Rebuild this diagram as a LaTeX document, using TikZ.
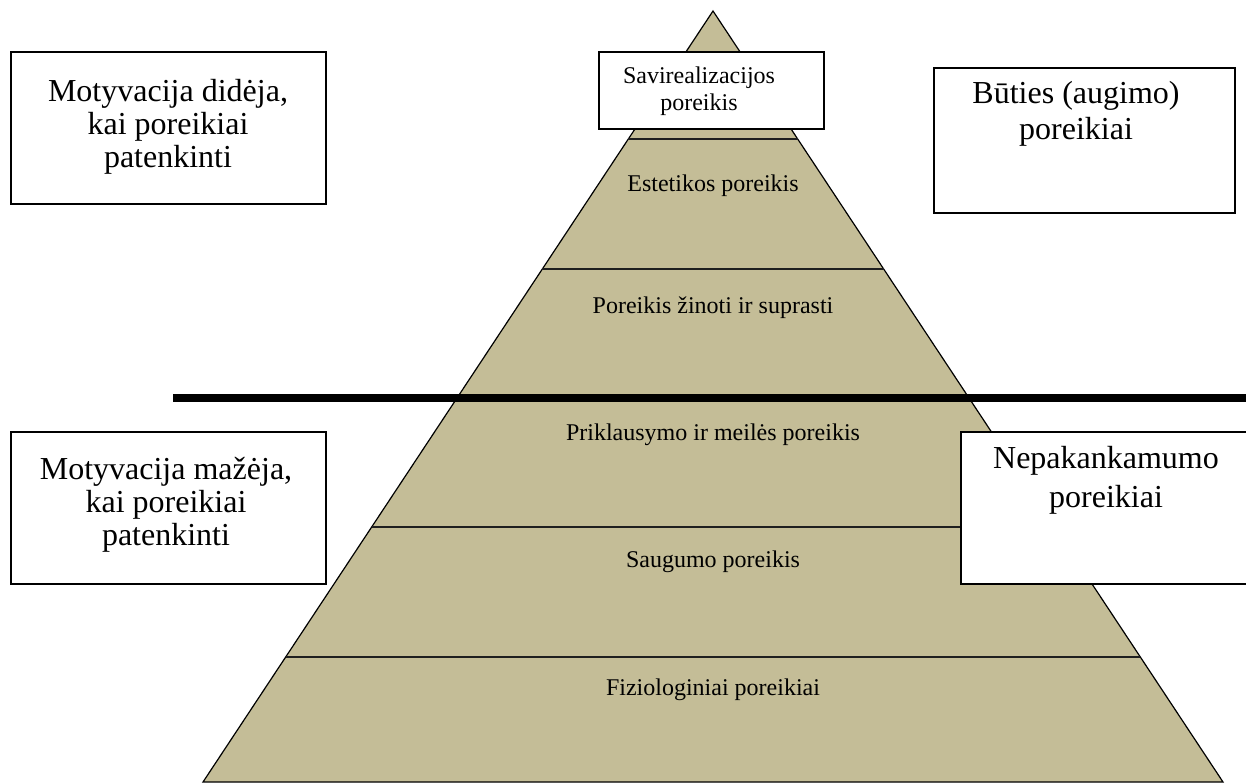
\documentclass[tikz,border=0pt]{standalone}
\usepackage{fontspec}
\setmainfont{Liberation Serif}
\usetikzlibrary{calc}
\definecolor{tan}{HTML}{C4BD97}
\begin{document}
\begin{tikzpicture}[x=1pt,y=-1pt,
  bigtext/.style={align=center, inner sep=0pt, anchor=north},
  smalltext/.style={font=\fontsize{24}{27}\selectfont, align=center, inner sep=0pt},
  box/.style={draw=black, line width=2pt, fill=white, inner sep=0pt, anchor=north west},
  layer/.style={draw=black!88, line width=2.5pt}]
\useasboundingbox (0,0) rectangle (1246,782);
\fill[white] (0,0) rectangle (1246,782);
% pyramid
\coordinate (apex) at (713,11);
\coordinate (bl) at (203,782);
\coordinate (br) at (1223,782);
\filldraw[fill=tan, draw=black, line width=1.2pt] (apex) -- (bl) -- (br) -- cycle;
\foreach \t/\n in {0.1660/a,0.3346/b,0.6693/c,0.8379/d}{
  \coordinate (L\n) at ($(apex)!\t!(bl)$);
  \coordinate (R\n) at ($(apex)!\t!(br)$);
  \draw[layer] (L\n) -- (R\n);
}
% thick divider
\coordinate (divl) at (173,398);
\coordinate (divr) at (1250,398);
\draw[line width=8pt, black] (divl) -- (divr);
% layer labels
\node[smalltext, anchor=base] (estetika) at (713,191) {Estetikos poreikis};
\node[smalltext, anchor=base] (zinoti) at (713,313) {Poreikis žinoti ir suprasti};
\node[smalltext, anchor=base] (meile) at (713,440) {Priklausymo ir meilės poreikis};
\node[smalltext, anchor=base] (saugumas) at (713,567) {Saugumo poreikis};
\node[smalltext, anchor=base] (fizio) at (713,695) {Fiziologiniai poreikiai};
% top box
\node[box, minimum width=225, minimum height=77] (savibox) at (598,51) {};
\node[smalltext, anchor=north] (savi) at (699,66.6) {Savirealizacijos\\poreikis};
% side boxes
\node[box, minimum width=315, minimum height=152] (tlbox) at (10,51) {};
\node[bigtext, font=\fontsize{32}{33}\selectfont] (tltext) at (168,79) {Motyvacija didėja,\\kai poreikiai\\patenkinti};
\node[box, minimum width=301, minimum height=145] (trbox) at (933,67) {};
\node[bigtext, font=\fontsize{32}{36}\selectfont] (trtext) at (1076,81) {Būties (augimo)\\poreikiai};
\node[box, minimum width=315, minimum height=152] (blbox) at (10,431) {};
\node[bigtext, font=\fontsize{32}{33}\selectfont] (bltext) at (166,457) {Motyvacija mažėja,\\kai poreikiai\\patenkinti};
\node[box, minimum width=300, minimum height=152] (brbox) at (960,431) {};
\node[bigtext, font=\fontsize{32}{39}\selectfont] (brtext) at (1106,446) {Nepakankamumo\\poreikiai};
\end{tikzpicture}
\end{document}
